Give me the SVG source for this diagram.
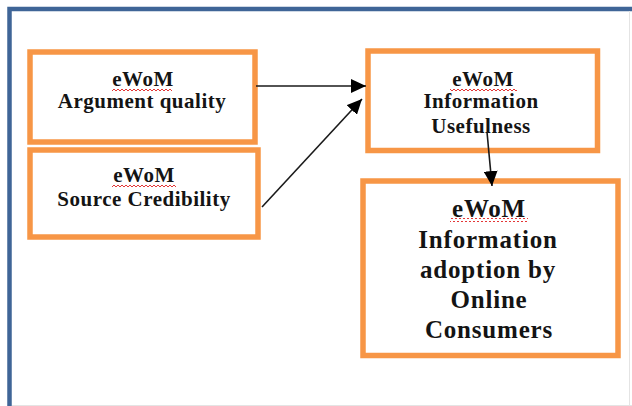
<svg xmlns="http://www.w3.org/2000/svg" width="632" height="406" viewBox="0 0 632 406">
  <style>
    .box { fill: #ffffff; stroke: #f79646; stroke-width: 5.5; }
    .lbl { font-family: "Liberation Serif", "Times New Roman", serif; font-weight: bold; fill: #141414; text-anchor: middle; }
    .s { font-size: 21px; letter-spacing: 0.5px; }
    .l { font-size: 25px; letter-spacing: 0.8px; }
    .edge { stroke: #1a1a1a; stroke-width: 1.6; fill: none; marker-end: url(#arrow); }
    .wave { fill: url(#squiggle); }
  </style>
  <defs>
    <marker id="arrow" markerUnits="userSpaceOnUse" markerWidth="16" markerHeight="14" refX="15" refY="7" orient="auto">
      <path d="M0,0 L15,7 L0,14 Z" fill="#000"/>
    </marker>
    <pattern id="squiggle" patternUnits="userSpaceOnUse" width="4" height="4">
      <path d="M0,3 L2,1 L4,3" fill="none" stroke="#e02020" stroke-width="0.9"/>
    </pattern>
  </defs>

  <rect width="632" height="406" fill="#ffffff"/>
  <!-- outer frame -->
  <rect x="9.5" y="9" width="640" height="420" fill="none" stroke="#3f6597" stroke-width="4.5"/>
  <line x1="629.5" y1="11" x2="629.5" y2="406" stroke="#e4e4e4" stroke-width="1"/>
  <line x1="12" y1="405.5" x2="632" y2="405.5" stroke="#e4e4e4" stroke-width="1"/>

  <g id="argument-quality">
    <rect class="box" x="30" y="52" width="225" height="90"/>
    <text class="lbl s" x="143" y="86">eWoM</text>
    <rect class="wave" x="112" y="87" width="60" height="4"/>
    <text class="lbl s" x="142" y="108">Argument quality</text>
  </g>

  <g id="source-credibility">
    <rect class="box" x="30" y="150" width="228" height="87"/>
    <text class="lbl s" x="144" y="182">eWoM</text>
    <rect class="wave" x="112" y="183" width="64" height="4"/>
    <text class="lbl s" x="144" y="206">Source Credibility</text>
  </g>

  <g id="information-usefulness">
    <rect class="box" x="368" y="51" width="229.5" height="99.5"/>
    <text class="lbl s" x="483" y="86">eWoM</text>
    <rect class="wave" x="450" y="87" width="67" height="4"/>
    <text class="lbl s" x="481" y="108">Information</text>
    <text class="lbl s" x="481" y="133">Usefulness</text>
  </g>

  <g id="information-adoption">
    <rect class="box" x="363" y="181" width="255" height="174.5"/>
    <text class="lbl l" x="489" y="217">eWoM</text>
    <rect class="wave" x="450" y="218" width="78" height="4"/>
    <text class="lbl l" x="488" y="248">Information</text>
    <text class="lbl l" x="488" y="278">adoption by</text>
    <text class="lbl l" x="489" y="308">Online</text>
    <text class="lbl l" x="489" y="338">Consumers</text>
  </g>

  <g id="connectors">
    <line class="edge" x1="256" y1="86" x2="366" y2="86"/>
    <line class="edge" x1="262" y1="207" x2="362" y2="99"/>
    <line class="edge" x1="487" y1="132" x2="492" y2="186"/>
  </g>
</svg>
